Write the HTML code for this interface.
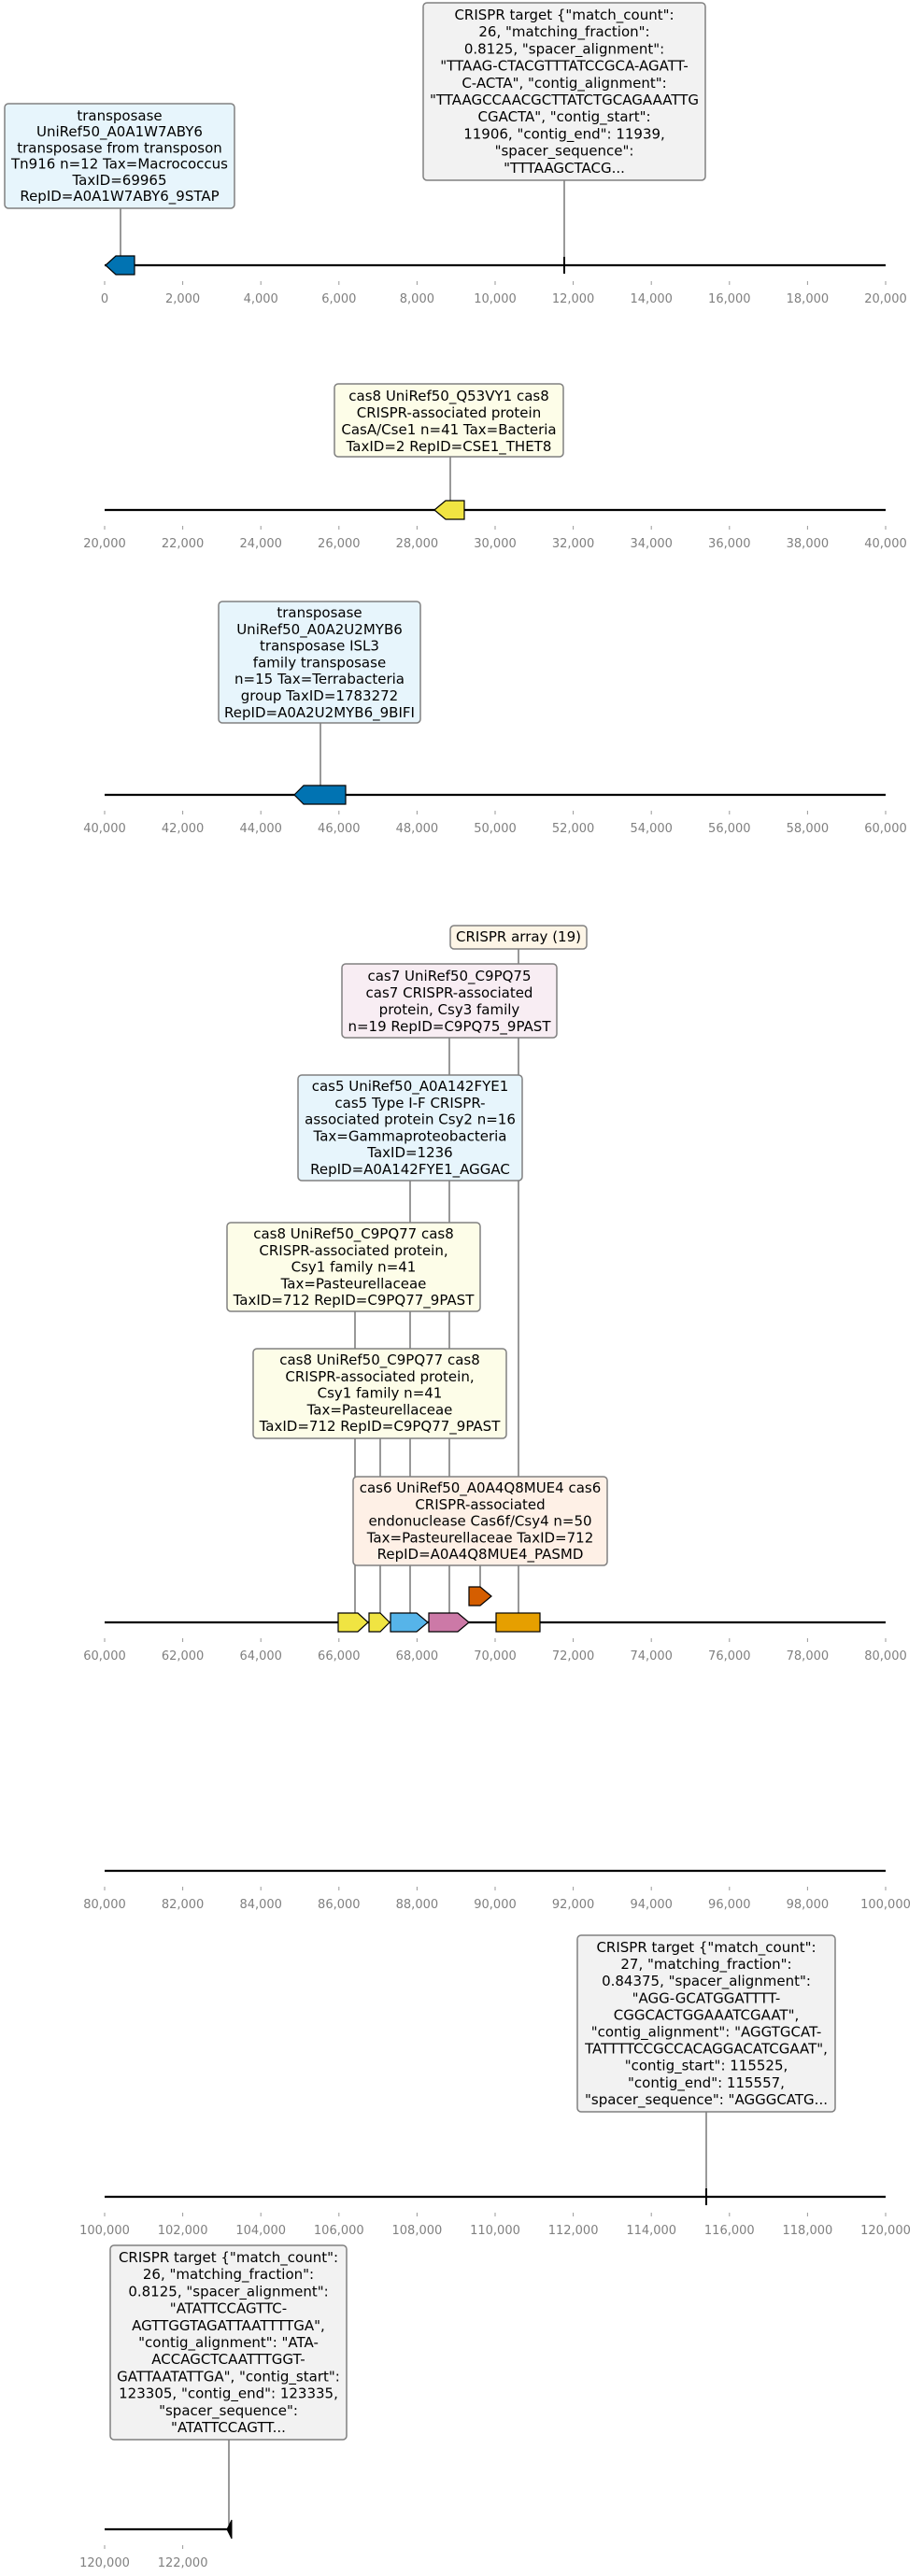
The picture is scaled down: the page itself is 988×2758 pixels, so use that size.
<!DOCTYPE html>
<html><head><meta charset="utf-8"><style>
html,body{margin:0;padding:0;background:#fff;}
svg{display:block;}
text{font-family:"DejaVu Sans","Liberation Sans",sans-serif;}
.t{font-size:15px;fill:#000;text-anchor:middle;}
.k{font-size:13px;fill:#808080;text-anchor:middle;}
.b{stroke:#808080;stroke-width:1.5;}
.c{stroke:#555;stroke-width:1.2;}
.g{stroke:#000;stroke-width:1.2;}
</style></head><body>
<svg width="988" height="2758" viewBox="0 0 988 2758" xmlns="http://www.w3.org/2000/svg">
<defs>
<path id="tk" d="M112 0v4M195.6 0v4M279.2 0v4M362.8 0v4M446.4 0v4M530 0v4M613.6 0v4M697.2 0v4M780.8 0v4M864.4 0v4M948 0v4"/>
</defs>
<g id="axes" stroke="#000" stroke-width="2.2">
<line x1="112" y1="284" x2="948" y2="284"/>
<line x1="112" y1="546" x2="948" y2="546"/>
<line x1="112" y1="851" x2="948" y2="851"/>
<line x1="112" y1="1737" x2="948" y2="1737"/>
<line x1="112" y1="2003" x2="948" y2="2003"/>
<line x1="112" y1="2352" x2="948" y2="2352"/>
<line x1="112" y1="2708" x2="246" y2="2708"/>
</g>
<g stroke="#999" stroke-width="1">
<use href="#tk" y="301"/><use href="#tk" y="563"/><use href="#tk" y="868"/><use href="#tk" y="1754"/><use href="#tk" y="2020"/><use href="#tk" y="2369"/>
<path d="M112 2725v4M195.6 2725v4"/>
</g>
<g class="k">
<g transform="translate(0,324)"><text x="112">0</text><text x="195.6">2,000</text><text x="279.2">4,000</text><text x="362.8">6,000</text><text x="446.4">8,000</text><text x="530">10,000</text><text x="613.6">12,000</text><text x="697.2">14,000</text><text x="780.8">16,000</text><text x="864.4">18,000</text><text x="948">20,000</text></g>
<g transform="translate(0,586)"><text x="112">20,000</text><text x="195.6">22,000</text><text x="279.2">24,000</text><text x="362.8">26,000</text><text x="446.4">28,000</text><text x="530">30,000</text><text x="613.6">32,000</text><text x="697.2">34,000</text><text x="780.8">36,000</text><text x="864.4">38,000</text><text x="948">40,000</text></g>
<g transform="translate(0,891)"><text x="112">40,000</text><text x="195.6">42,000</text><text x="279.2">44,000</text><text x="362.8">46,000</text><text x="446.4">48,000</text><text x="530">50,000</text><text x="613.6">52,000</text><text x="697.2">54,000</text><text x="780.8">56,000</text><text x="864.4">58,000</text><text x="948">60,000</text></g>
<g transform="translate(0,1777)"><text x="112">60,000</text><text x="195.6">62,000</text><text x="279.2">64,000</text><text x="362.8">66,000</text><text x="446.4">68,000</text><text x="530">70,000</text><text x="613.6">72,000</text><text x="697.2">74,000</text><text x="780.8">76,000</text><text x="864.4">78,000</text><text x="948">80,000</text></g>
<g transform="translate(0,2043)"><text x="112">80,000</text><text x="195.6">82,000</text><text x="279.2">84,000</text><text x="362.8">86,000</text><text x="446.4">88,000</text><text x="530">90,000</text><text x="613.6">92,000</text><text x="697.2">94,000</text><text x="780.8">96,000</text><text x="864.4">98,000</text><text x="948">100,000</text></g>
<g transform="translate(0,2392)"><text x="112">100,000</text><text x="195.6">102,000</text><text x="279.2">104,000</text><text x="362.8">106,000</text><text x="446.4">108,000</text><text x="530">110,000</text><text x="613.6">112,000</text><text x="697.2">114,000</text><text x="780.8">116,000</text><text x="864.4">118,000</text><text x="948">120,000</text></g>
<g transform="translate(0,2748)"><text x="112">120,000</text><text x="195.6">122,000</text></g>
</g>

<!-- connectors -->
<g class="c">
<line x1="129" y1="223" x2="129" y2="274"/>
<line x1="604" y1="193" x2="604" y2="284"/>
<line x1="482" y1="489" x2="482" y2="536"/>
<line x1="343" y1="774" x2="343" y2="841"/>
<line x1="555" y1="1016" x2="555" y2="1727"/>
<line x1="481" y1="1111" x2="481" y2="1727"/>
<line x1="439" y1="1264" x2="439" y2="1727"/>
<line x1="380" y1="1404" x2="380" y2="1727"/>
<line x1="407" y1="1540" x2="407" y2="1727"/>
<line x1="514" y1="1676" x2="514" y2="1699"/>
<line x1="756" y1="2261" x2="756" y2="2352"/>
<line x1="245" y1="2612" x2="245" y2="2708"/>
</g>

<!-- markers -->
<line x1="604" y1="275" x2="604" y2="293" stroke="#000" stroke-width="2"/>
<line x1="756" y1="2343" x2="756" y2="2361" stroke="#000" stroke-width="2"/>
<polygon points="243,2708 248,2698 248,2718" fill="#000" stroke="#000" stroke-width="1"/>

<!-- genes -->
<g class="g">
<polygon points="113,284 124,274 144,274 144,294 124,294" fill="#0173b2"/>
<polygon points="465,546 477,536 497,536 497,556 477,556" fill="#f0e442"/>
<polygon points="315,851 325,841 370,841 370,861 325,861" fill="#0173b2"/>
<polygon points="362,1727 383,1727 394,1737 383,1747 362,1747" fill="#f0e442"/>
<polygon points="395,1727 407,1727 417,1737 407,1747 395,1747" fill="#f0e442"/>
<polygon points="418,1727 446,1727 458,1737 446,1747 418,1747" fill="#56b4e9"/>
<polygon points="459,1727 490,1727 502,1737 490,1747 459,1747" fill="#cc79a7"/>
<rect x="531" y="1727" width="47" height="20" fill="#e69f00"/>
<polygon points="502,1699 514,1699 526,1709 514,1719 502,1719" fill="#d55e00"/>
</g>

<!-- boxes -->
<rect class="b" x="5" y="111" width="246" height="112" rx="4" fill="#e7f5fc"/>
<text class="t" y="129"><tspan x="128">transposase</tspan><tspan x="128" dy="17.2">UniRef50_A0A1W7ABY6</tspan><tspan x="128" dy="17.2">transposase from transposon</tspan><tspan x="128" dy="17.2">Tn916 n=12 Tax=Macrococcus</tspan><tspan x="128" dy="17.2">TaxID=69965</tspan><tspan x="128" dy="17.2">RepID=A0A1W7ABY6_9STAP</tspan></text>

<rect class="b" x="453" y="3" width="302" height="190" rx="4" fill="#f2f2f2"/>
<text class="t" y="21"><tspan x="604">CRISPR target {"match_count":</tspan><tspan x="604" dy="18.2">26, "matching_fraction":</tspan><tspan x="604" dy="18.2">0.8125, "spacer_alignment":</tspan><tspan x="604" dy="18.2">"TTAAG-CTACGTTTATCCGCA-AGATT-</tspan><tspan x="604" dy="18.2">C-ACTA", "contig_alignment":</tspan><tspan x="604" dy="18.2">"TTAAGCCAACGCTTATCTGCAGAAATTG</tspan><tspan x="604" dy="18.2">CGACTA", "contig_start":</tspan><tspan x="604" dy="18.2">11906, "contig_end": 11939,</tspan><tspan x="604" dy="18.2">"spacer_sequence":</tspan><tspan x="604" dy="18.2">"TTTAAGCTACG...</tspan></text>

<rect class="b" x="358" y="411" width="245" height="78" rx="4" fill="#fdfde8"/>
<text class="t" y="429"><tspan x="480.5">cas8 UniRef50_Q53VY1 cas8</tspan><tspan x="480.5" dy="18">CRISPR-associated protein</tspan><tspan x="480.5" dy="18">CasA/Cse1 n=41 Tax=Bacteria</tspan><tspan x="480.5" dy="18">TaxID=2 RepID=CSE1_THET8</tspan></text>

<rect class="b" x="234" y="644" width="216" height="130" rx="4" fill="#e7f5fc"/>
<text class="t" y="661"><tspan x="342">transposase</tspan><tspan x="342" dy="17.8">UniRef50_A0A2U2MYB6</tspan><tspan x="342" dy="17.8">transposase ISL3</tspan><tspan x="342" dy="17.8">family transposase</tspan><tspan x="342" dy="17.8">n=15 Tax=Terrabacteria</tspan><tspan x="342" dy="17.8">group TaxID=1783272</tspan><tspan x="342" dy="17.8">RepID=A0A2U2MYB6_9BIFI</tspan></text>

<rect class="b" x="482" y="991" width="146" height="25" rx="4" fill="#fdf5e6"/>
<text class="t" x="555" y="1008">CRISPR array (19)</text>

<rect class="b" x="366" y="1032" width="230" height="79" rx="4" fill="#f8edf3"/>
<text class="t" y="1050"><tspan x="481">cas7 UniRef50_C9PQ75</tspan><tspan x="481" dy="18">cas7 CRISPR-associated</tspan><tspan x="481" dy="18">protein, Csy3 family</tspan><tspan x="481" dy="18">n=19 RepID=C9PQ75_9PAST</tspan></text>

<rect class="b" x="319" y="1151" width="240" height="113" rx="4" fill="#e7f5fc"/>
<text class="t" y="1168"><tspan x="439">cas5 UniRef50_A0A142FYE1</tspan><tspan x="439" dy="17.8">cas5 Type I-F CRISPR-</tspan><tspan x="439" dy="17.8">associated protein Csy2 n=16</tspan><tspan x="439" dy="17.8">Tax=Gammaproteobacteria</tspan><tspan x="439" dy="17.8">TaxID=1236</tspan><tspan x="439" dy="17.8">RepID=A0A142FYE1_AGGAC</tspan></text>

<rect class="b" x="243" y="1309" width="271" height="95" rx="4" fill="#fdfde8"/>
<text class="t" y="1326"><tspan x="378.5">cas8 UniRef50_C9PQ77 cas8</tspan><tspan x="378.5" dy="17.8">CRISPR-associated protein,</tspan><tspan x="378.5" dy="17.8">Csy1 family n=41</tspan><tspan x="378.5" dy="17.8">Tax=Pasteurellaceae</tspan><tspan x="378.5" dy="17.8">TaxID=712 RepID=C9PQ77_9PAST</tspan></text>

<rect class="b" x="271" y="1444" width="271" height="96" rx="4" fill="#fdfde8"/>
<text class="t" y="1461"><tspan x="406.5">cas8 UniRef50_C9PQ77 cas8</tspan><tspan x="406.5" dy="17.8">CRISPR-associated protein,</tspan><tspan x="406.5" dy="17.8">Csy1 family n=41</tspan><tspan x="406.5" dy="17.8">Tax=Pasteurellaceae</tspan><tspan x="406.5" dy="17.8">TaxID=712 RepID=C9PQ77_9PAST</tspan></text>

<rect class="b" x="378" y="1581" width="272" height="95" rx="4" fill="#fef0e6"/>
<text class="t" y="1598"><tspan x="514">cas6 UniRef50_A0A4Q8MUE4 cas6</tspan><tspan x="514" dy="17.8">CRISPR-associated</tspan><tspan x="514" dy="17.8">endonuclease Cas6f/Csy4 n=50</tspan><tspan x="514" dy="17.8">Tax=Pasteurellaceae TaxID=712</tspan><tspan x="514" dy="17.8">RepID=A0A4Q8MUE4_PASMD</tspan></text>

<rect class="b" x="618" y="2072" width="276" height="189" rx="4" fill="#f2f2f2"/>
<text class="t" y="2090"><tspan x="756">CRISPR target {"match_count":</tspan><tspan x="756" dy="18.1">27, "matching_fraction":</tspan><tspan x="756" dy="18.1">0.84375, "spacer_alignment":</tspan><tspan x="756" dy="18.1">"AGG-GCATGGATTTT-</tspan><tspan x="756" dy="18.1">CGGCACTGGAAATCGAAT",</tspan><tspan x="756" dy="18.1">"contig_alignment": "AGGTGCAT-</tspan><tspan x="756" dy="18.1">TATTTTCCGCCACAGGACATCGAAT",</tspan><tspan x="756" dy="18.1">"contig_start": 115525,</tspan><tspan x="756" dy="18.1">"contig_end": 115557,</tspan><tspan x="756" dy="18.1">"spacer_sequence": "AGGGCATG...</tspan></text>

<rect class="b" x="118" y="2404" width="253" height="208" rx="4" fill="#f2f2f2"/>
<text class="t" y="2422"><tspan x="244.5">CRISPR target {"match_count":</tspan><tspan x="244.5" dy="18.2">26, "matching_fraction":</tspan><tspan x="244.5" dy="18.2">0.8125, "spacer_alignment":</tspan><tspan x="244.5" dy="18.2">"ATATTCCAGTTC-</tspan><tspan x="244.5" dy="18.2">AGTTGGTAGATTAATTTTGA",</tspan><tspan x="244.5" dy="18.2">"contig_alignment": "ATA-</tspan><tspan x="244.5" dy="18.2">ACCAGCTCAATTTGGT-</tspan><tspan x="244.5" dy="18.2">GATTAATATTGA", "contig_start":</tspan><tspan x="244.5" dy="18.2">123305, "contig_end": 123335,</tspan><tspan x="244.5" dy="18.2">"spacer_sequence":</tspan><tspan x="244.5" dy="18.2">"ATATTCCAGTT...</tspan></text>
</svg>
</body></html>
